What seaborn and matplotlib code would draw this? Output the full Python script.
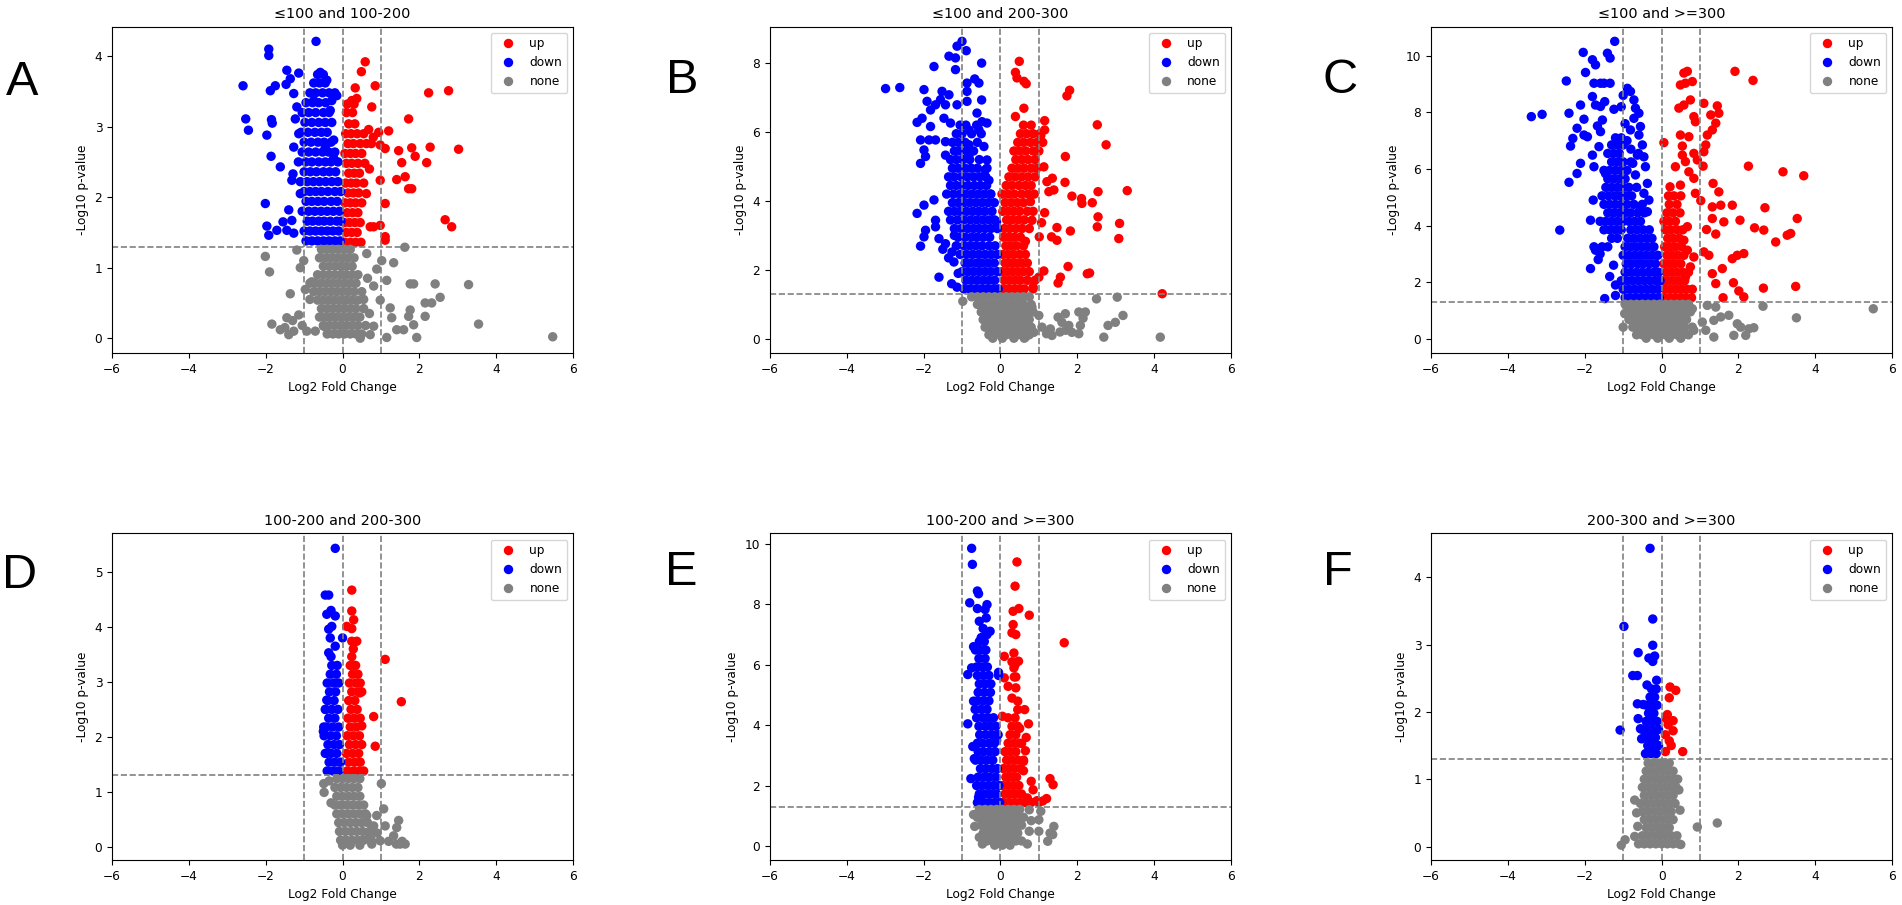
import matplotlib
matplotlib.use("Agg")
import matplotlib.pyplot as plt
import pandas as pd
import seaborn as sns

# titles and panel letters
TITLES = ["≤100 and 100-200", "≤100 and 200-300", "≤100 and >=300",
          "100-200 and 200-300", "100-200 and >=300", "200-300 and >=300"]
LETTERS = ["A", "B", "C", "D", "E", "F"]
GROUPS = ["up", "down", "none"]
COLORS = {"up": "red", "down": "blue", "none": "grey"}

# ---- panel A: scattered points (x, y) and dense rows (y, [x, ...]) ----
A_UP_PTS = [(0.59, 3.92), (0.49, 3.78), (0.33, 3.55), (0.85, 3.58), (0.24, 3.37), (0.37, 3.40),
            (0.76, 3.28), (2.24, 3.48), (2.76, 3.51), (1.72, 3.11), (0.68, 2.96), (0.94, 2.92),
            (1.20, 2.94), (0.98, 2.74), (1.11, 2.69), (1.46, 2.66), (1.80, 2.70), (2.28, 2.71),
            (3.02, 2.68), (1.89, 2.58), (1.54, 2.49), (2.19, 2.49), (0.98, 2.24), (1.41, 2.25),
            (1.63, 2.29), (1.72, 2.12), (1.80, 2.12), (1.11, 1.91), (2.67, 1.68), (2.84, 1.58),
            (0.98, 1.60), (0.72, 1.58), (1.11, 1.44), (1.11, 1.39), (0.81, 1.58), (0.70, 2.40),
            (0.62, 2.05), (0.80, 2.85)]
A_UP_ROWS = [(1.36, [0.06, 0.20, 0.34, 0.48]), (1.50, [0.10, 0.24, 0.38]),
             (1.64, [0.05, 0.18, 0.32, 0.46]), (1.78, [0.12, 0.26, 0.40]),
             (1.92, [0.06, 0.20, 0.34, 0.50]), (2.06, [0.14, 0.28, 0.42]),
             (2.20, [0.08, 0.22, 0.36, 0.55]), (2.34, [0.16, 0.30, 0.44]),
             (2.48, [0.10, 0.24, 0.40, 0.58]), (2.62, [0.06, 0.20, 0.34, 0.50]),
             (2.76, [0.14, 0.28, 0.46, 0.62, 0.75]), (2.90, [0.08, 0.22, 0.38, 0.55]),
             (3.04, [0.16, 0.32]), (3.20, [0.10, 0.26]), (3.32, [0.12, 0.30])]
A_DOWN_PTS = [(-2.59, 3.58), (-2.52, 3.11), (-2.45, 2.95), (-1.92, 4.10), (-1.92, 4.01), (-1.97, 2.88),
              (-1.86, 2.58), (-1.85, 3.10), (-1.83, 3.05), (-1.88, 3.51), (-1.75, 3.58), (-1.62, 2.43),
              (-1.45, 3.80), (-1.47, 3.60), (-1.27, 3.47), (-1.14, 3.76), (-2.01, 1.91), (-1.97, 1.59),
              (-1.92, 1.46), (-1.71, 1.53), (-1.45, 1.53), (-1.27, 1.49), (-1.40, 1.82), (-1.32, 1.67),
              (-0.69, 4.21), (-0.58, 3.77), (-0.41, 3.66), (-0.15, 3.44), (-0.75, 3.37), (-0.32, 3.23),
              (-1.19, 3.28), (-1.23, 3.11), (-1.14, 2.90), (-1.27, 2.71), (-1.29, 2.33), (-1.32, 2.24),
              (-1.10, 2.05), (-0.28, 3.37), (-0.23, 2.81), (-0.45, 2.71), (-0.23, 2.55), (-1.55, 1.65),
              (-1.36, 3.68)]
A_DOWN_ROWS = [(1.38, [-0.95, -0.80, -0.65, -0.50, -0.35, -0.20, -0.06]),
               (1.52, [-1.00, -0.85, -0.70, -0.55, -0.40, -0.25, -0.10]),
               (1.66, [-0.92, -0.78, -0.62, -0.48, -0.32, -0.15, -0.04]),
               (1.80, [-1.05, -0.88, -0.72, -0.56, -0.40, -0.24, -0.08]),
               (1.94, [-0.95, -0.80, -0.64, -0.48, -0.30, -0.14]),
               (2.08, [-1.00, -0.85, -0.70, -0.55, -0.38, -0.20, -0.05]),
               (2.22, [-1.10, -0.92, -0.76, -0.60, -0.44, -0.28, -0.12]),
               (2.36, [-1.00, -0.84, -0.68, -0.50, -0.34, -0.18]),
               (2.50, [-1.15, -0.96, -0.80, -0.62, -0.45, -0.30, -0.12]),
               (2.64, [-1.05, -0.88, -0.70, -0.52, -0.36, -0.20]),
               (2.78, [-1.00, -0.82, -0.64, -0.48, -0.30]),
               (2.92, [-1.08, -0.90, -0.72, -0.55, -0.40]),
               (3.06, [-0.98, -0.80, -0.62, -0.45, -0.28]),
               (3.20, [-1.05, -0.88, -0.70, -0.50, -0.35]),
               (3.34, [-0.95, -0.78, -0.62, -0.44]),
               (3.48, [-0.85, -0.70, -0.52, -0.35, -0.20]),
               (3.62, [-0.75, -0.60, -0.45]), (3.74, [-0.65, -0.50])]
A_NONE_PTS = [(-2.01, 1.16), (-1.90, 0.94), (-1.36, 0.63), (-1.84, 0.20), (-1.62, 0.12), (-1.27, 0.10),
              (-0.93, 0.10), (-0.71, 0.10), (-0.49, 0.17), (-1.45, 0.29), (-1.14, 0.33), (-0.97, 0.69),
              (-1.10, 1.00), (-1.01, 1.10), (-1.19, 1.25), (0.89, 0.98), (1.02, 1.10), (1.33, 1.07),
              (1.15, 0.82), (0.98, 0.54), (1.24, 0.43), (1.28, 0.29), (1.15, 0.01), (1.76, 0.77),
              (1.85, 0.77), (2.41, 0.77), (3.28, 0.76), (2.15, 0.50), (2.32, 0.50), (2.54, 0.58),
              (2.15, 0.31), (1.76, 0.40), (1.72, 0.31), (1.85, 0.19), (1.93, 0.01), (1.41, 0.12),
              (1.59, 0.12), (3.54, 0.20), (5.47, 0.02), (0.81, 0.17), (0.72, 0.05), (0.46, 0.00),
              (0.55, 0.55), (0.81, 0.74), (0.63, 1.20), (1.62, 1.29), (-1.50, 0.15), (-1.30, 0.25),
              (-1.05, 0.18), (-0.85, 0.55), (-0.80, 0.80), (0.65, 0.85), (0.70, 0.35), (-1.40, 0.05)]
A_NONE_ROWS = [(1.26, [-0.55, -0.40, -0.25, -0.10, 0.05, 0.20]),
               (1.14, [-0.60, -0.45, -0.30, -0.15, 0.00, 0.15, 0.30]),
               (1.02, [-0.50, -0.35, -0.20, -0.05, 0.10, 0.25]),
               (0.90, [-0.65, -0.50, -0.35, -0.20, -0.05, 0.10, 0.25, 0.40]),
               (0.78, [-0.85, -0.70, -0.55, -0.40, -0.25, -0.10, 0.05, 0.20, 0.35]),
               (0.66, [-0.75, -0.60, -0.45, -0.30, -0.15, 0.00, 0.15, 0.30, 0.50]),
               (0.54, [-0.65, -0.50, -0.35, -0.20, -0.05, 0.10, 0.25, 0.40]),
               (0.42, [-0.55, -0.40, -0.25, -0.10, 0.05, 0.20, 0.35, 0.55]),
               (0.30, [-0.60, -0.45, -0.30, -0.15, 0.00, 0.15, 0.30, 0.45]),
               (0.18, [-0.50, -0.35, -0.20, -0.05, 0.10, 0.25, 0.40, 0.60]),
               (0.06, [-0.40, -0.25, -0.10, 0.05, 0.20, 0.35, 0.50])]

# ---- panel B ----
B_UP_PTS = [(0.49, 8.05), (0.39, 7.73), (0.43, 7.57), (0.61, 7.47), (0.67, 7.40), (1.73, 7.05),
            (1.80, 7.21), (0.61, 6.69), (0.39, 6.45), (1.15, 6.33), (1.15, 6.06), (2.52, 6.21),
            (2.75, 5.63), (1.69, 5.29), (1.68, 4.54), (1.21, 4.56), (1.35, 4.66), (1.26, 4.27),
            (1.39, 4.32), (1.86, 4.14), (2.11, 4.07), (2.12, 3.93), (2.39, 3.95), (2.54, 4.27),
            (3.30, 4.30), (2.54, 3.54), (2.52, 3.25), (3.10, 3.35), (3.08, 2.91), (1.82, 3.13),
            (1.47, 3.23), (1.33, 2.96), (1.47, 2.86), (1.15, 3.66), (1.07, 3.37), (1.01, 2.96),
            (1.76, 2.10), (2.26, 1.89), (2.32, 1.91), (1.56, 1.79), (1.50, 1.62), (1.13, 1.97),
            (1.00, 1.79), (4.21, 1.31), (1.13, 4.99), (0.78, 3.98), (0.82, 3.44), (0.65, 2.83),
            (1.10, 5.70), (1.05, 5.90), (0.85, 1.50)]
B_UP_ROWS = [(1.45, [0.06, 0.20, 0.34, 0.48, 0.62, 0.85]), (1.70, [0.10, 0.24, 0.38, 0.52, 0.70, 0.90]),
             (1.95, [0.05, 0.18, 0.32, 0.46, 0.60, 0.75]), (2.20, [0.12, 0.26, 0.40, 0.55, 0.70]),
             (2.45, [0.06, 0.20, 0.34, 0.50, 0.65]), (2.70, [0.14, 0.28, 0.42, 0.60]),
             (2.95, [0.08, 0.22, 0.36, 0.52]), (3.20, [0.10, 0.24, 0.40, 0.56, 0.75]),
             (3.45, [0.16, 0.30, 0.46, 0.62]), (3.70, [0.06, 0.20, 0.35, 0.50, 0.70, 0.85]),
             (3.95, [0.12, 0.28, 0.44, 0.60]), (4.20, [0.04, 0.20, 0.36, 0.55, 0.72, 0.88]),
             (4.45, [0.15, 0.30, 0.48, 0.65, 0.80]), (4.70, [0.22, 0.38, 0.55, 0.72, 0.90]),
             (4.95, [0.30, 0.46, 0.62, 0.80, 0.95]), (5.20, [0.40, 0.56, 0.72, 0.90]),
             (5.45, [0.35, 0.50, 0.66, 0.85, 1.00]), (5.70, [0.45, 0.60, 0.78, 0.95]),
             (5.95, [0.52, 0.68, 0.85, 1.02]), (6.20, [0.60, 0.80])]
B_DOWN_PTS = [(-2.99, 7.26), (-2.62, 7.29), (-1.99, 7.23), (-1.73, 7.90), (-1.91, 6.89), (-2.17, 6.28),
              (-2.04, 6.40), (-1.82, 6.64), (-1.69, 6.79), (-1.56, 6.94), (-1.52, 7.18), (-1.34, 7.08),
              (-1.43, 6.79), (-1.82, 6.16), (-2.08, 5.77), (-1.86, 5.77), (-1.69, 5.77), (-1.99, 5.48),
              (-1.95, 5.29), (-2.08, 5.09), (-1.47, 6.40), (-1.30, 6.26), (-1.13, 6.79), (-1.34, 8.20),
              (-1.17, 8.15), (-1.17, 7.81), (-1.13, 8.49), (-1.00, 8.63), (-0.89, 8.36), (-0.49, 8.00),
              (-0.87, 7.42), (-0.87, 7.18), (-0.67, 7.54), (-0.56, 7.42), (-0.49, 6.93), (-0.87, 6.89),
              (-0.61, 6.55), (-0.48, 6.30), (-0.35, 6.26), (-0.82, 6.06), (-0.56, 6.06), (-0.82, 5.63),
              (-0.43, 5.58), (-1.43, 5.72), (-1.43, 5.33), (-0.82, 5.33), (-0.35, 5.19), (-1.73, 4.03),
              (-1.99, 3.88), (-2.17, 3.64), (-1.69, 3.44), (-1.69, 3.25), (-1.95, 3.15), (-1.99, 2.96),
              (-2.08, 2.69), (-1.60, 2.91), (-1.43, 2.76), (-1.26, 2.52), (-1.21, 2.23), (-1.60, 1.79),
              (-1.27, 1.60), (-1.13, 1.50), (-1.50, 2.60), (-1.35, 2.35), (-1.10, 1.90), (-1.15, 2.70),
              (-1.20, 3.00), (-0.40, 4.90), (-0.30, 4.60), (-0.25, 4.20), (-0.10, 3.40)]
B_DOWN_ROWS = [(1.45, [-0.95, -0.80, -0.65, -0.50, -0.35, -0.20, -0.06]),
               (1.70, [-0.90, -0.75, -0.60, -0.45, -0.30, -0.15]),
               (1.95, [-1.00, -0.85, -0.70, -0.55, -0.40, -0.25, -0.08]),
               (2.20, [-0.92, -0.78, -0.62, -0.48, -0.32, -0.16]),
               (2.45, [-1.05, -0.88, -0.72, -0.56, -0.40, -0.24, -0.08]),
               (2.70, [-0.95, -0.80, -0.64, -0.48, -0.30, -0.14]),
               (2.95, [-1.10, -0.92, -0.75, -0.60, -0.44, -0.28]),
               (3.20, [-1.20, -1.02, -0.85, -0.70, -0.55, -0.40, -0.25, -0.08]),
               (3.45, [-1.30, -1.12, -0.95, -0.78, -0.62, -0.46, -0.30, -0.15]),
               (3.70, [-1.35, -1.20, -1.05, -0.88, -0.72, -0.56, -0.40, -0.22]),
               (3.95, [-1.25, -1.10, -0.95, -0.80, -0.64, -0.48, -0.32, -0.16]),
               (4.20, [-1.40, -1.22, -1.05, -0.90, -0.74, -0.58, -0.42, -0.26]),
               (4.45, [-1.30, -1.15, -1.00, -0.84, -0.68, -0.52, -0.36]),
               (4.70, [-1.35, -1.20, -1.02, -0.86, -0.70, -0.54, -0.38]),
               (4.95, [-1.25, -1.10, -0.92, -0.76, -0.60, -0.35]),
               (5.20, [-1.30, -1.15, -0.98, -0.80, -0.55]),
               (5.45, [-1.20, -1.05, -0.88, -0.70]), (5.70, [-1.25, -1.10, -0.92, -0.60]),
               (5.95, [-1.15, -1.00, -0.75, -0.50]), (6.20, [-1.05, -0.90, -0.62])]
B_NONE_PTS = [(-0.98, 1.09), (2.50, 1.16), (3.04, 1.21), (3.19, 0.68), (2.99, 0.48), (2.80, 0.39),
              (2.69, 0.05), (4.16, 0.05), (2.21, 0.78), (2.04, 0.78), (1.69, 0.73), (1.50, 0.63),
              (1.60, 0.48), (1.78, 0.39), (2.08, 0.39), (2.04, 0.15), (1.86, 0.19), (1.34, 0.10),
              (1.30, 0.29), (1.08, 0.34), (1.00, 0.68), (0.87, 0.19), (0.65, 0.05), (0.82, 0.92),
              (1.70, 0.25), (1.55, 0.20), (2.15, 0.60), (1.20, 0.15)]
B_NONE_ROWS = [(1.22, [-0.75, -0.60, -0.45, -0.30, -0.15, 0.00, 0.15, 0.30, 0.45, 0.60, 0.75]),
               (1.00, [-0.60, -0.45, -0.30, -0.15, 0.00, 0.15, 0.30, 0.45, 0.60, 0.80]),
               (0.78, [-0.50, -0.35, -0.20, -0.05, 0.10, 0.25, 0.40, 0.55, 0.70, 0.85]),
               (0.56, [-0.45, -0.30, -0.15, 0.00, 0.15, 0.30, 0.45, 0.60, 0.75]),
               (0.34, [-0.40, -0.25, -0.10, 0.05, 0.20, 0.35, 0.50, 0.65, 0.80]),
               (0.12, [-0.30, -0.15, 0.00, 0.15, 0.30, 0.45, 0.60, 0.75]),
               (0.02, [-0.20, 0.05, 0.35, 0.62])]

# ---- panel C ----
C_UP_PTS = [(0.58, 9.39), (0.67, 9.45), (0.49, 8.97), (0.62, 9.03), (0.80, 9.09), (1.91, 9.45),
            (2.38, 9.13), (1.10, 8.32), (1.45, 8.23), (1.49, 7.97), (1.28, 7.91), (0.75, 8.44),
            (0.45, 8.15), (0.58, 8.26), (0.84, 7.85), (0.88, 7.67), (1.41, 7.62), (1.32, 7.38),
            (1.19, 7.20), (1.15, 6.85), (1.10, 6.61), (0.49, 7.20), (0.71, 7.14), (0.06, 6.93),
            (0.54, 6.81), (0.54, 6.49), (0.84, 6.55), (0.62, 6.26), (0.93, 6.32), (1.08, 6.10),
            (0.36, 6.08), (0.71, 5.90), (0.84, 5.67), (2.26, 6.10), (3.16, 5.90), (3.70, 5.76),
            (1.34, 5.49), (1.49, 5.19), (0.22, 5.37), (0.49, 5.43), (0.88, 5.14), (1.02, 4.88),
            (1.32, 4.66), (1.54, 4.72), (1.84, 4.72), (2.69, 4.63), (1.32, 4.25), (1.62, 4.13),
            (2.04, 4.19), (2.42, 3.92), (2.66, 3.84), (2.97, 3.42), (3.27, 3.66), (3.36, 3.72),
            (3.53, 4.25), (1.17, 3.86), (1.41, 3.70), (1.10, 3.07), (1.23, 2.95), (1.84, 2.83),
            (1.97, 2.95), (2.14, 3.01), (1.58, 2.48), (1.32, 2.30), (1.41, 1.95), (1.87, 1.98),
            (2.01, 1.69), (2.14, 1.48), (1.60, 1.45), (2.65, 1.79), (3.49, 1.85), (0.84, 2.89),
            (0.75, 2.54), (0.62, 2.18), (0.67, 3.96), (0.58, 3.48), (0.67, 3.13)]
C_UP_ROWS = [(1.45, [0.06, 0.20, 0.34, 0.48, 0.62, 0.78]), (1.75, [0.10, 0.24, 0.38, 0.52, 0.66, 0.80]),
             (2.05, [0.05, 0.18, 0.32, 0.46, 0.60]), (2.35, [0.12, 0.26, 0.40, 0.55, 0.70]),
             (2.65, [0.06, 0.20, 0.34, 0.50]), (2.95, [0.14, 0.28, 0.42, 0.58]),
             (3.25, [0.08, 0.22, 0.36, 0.52]), (3.55, [0.16, 0.30, 0.46]),
             (3.85, [0.10, 0.24, 0.40, 0.55]), (4.15, [0.06, 0.20, 0.36]),
             (4.45, [0.14, 0.30, 0.48]), (4.75, [0.20, 0.40]), (5.05, [0.18, 0.32, 0.50])]
C_DOWN_PTS = [(-3.39, 7.85), (-3.11, 7.93), (-2.48, 9.11), (-2.41, 7.97), (-2.65, 3.84), (-2.41, 5.53),
              (-2.20, 5.84), (-2.11, 6.20), (-2.37, 6.81), (-2.31, 7.08), (-2.20, 7.44), (-2.02, 7.20),
              (-1.93, 7.14), (-2.11, 8.26), (-2.02, 7.76), (-2.04, 10.12), (-1.80, 9.86), (-1.72, 9.68),
              (-1.98, 9.41), (-1.76, 9.03), (-1.59, 9.03), (-1.50, 9.03), (-1.34, 9.03), (-1.41, 10.09),
              (-1.34, 9.92), (-1.22, 10.51), (-1.80, 8.56), (-1.72, 8.26), (-1.59, 8.21), (-1.48, 8.38),
              (-1.24, 8.11), (-1.67, 7.52), (-1.54, 7.73), (-1.59, 7.32), (-1.80, 6.49), (-1.63, 6.79),
              (-1.76, 6.08), (-1.46, 5.84), (-1.78, 4.90), (-1.85, 4.19), (-1.85, 2.48), (-1.48, 1.42),
              (-1.20, 1.53), (-1.76, 3.25), (-1.72, 3.13), (-0.89, 8.85), (-0.81, 8.74), (-0.72, 8.44),
              (-0.68, 8.15), (-0.59, 7.97), (-0.72, 7.79), (-0.81, 7.38), (-0.55, 7.50), (-0.59, 7.20),
              (-0.50, 6.85), (-0.63, 6.49), (-0.46, 6.43), (-0.42, 6.08), (-0.68, 5.79), (-0.37, 5.49),
              (-0.46, 5.14), (-0.33, 4.90), (-0.55, 4.66), (-0.37, 4.49), (-1.00, 8.60), (-1.05, 8.20),
              (-0.95, 7.60), (-0.90, 7.00), (-0.80, 6.70), (-0.75, 6.20), (-1.60, 3.00), (-1.65, 2.80),
              (-1.35, 2.20), (-1.20, 1.90), (-1.25, 2.60)]
C_DOWN_ROWS = [(1.45, [-0.95, -0.80, -0.65, -0.50, -0.35, -0.20, -0.06]),
               (1.75, [-1.00, -0.85, -0.70, -0.55, -0.40, -0.25, -0.10]),
               (2.05, [-1.05, -0.90, -0.75, -0.60, -0.45, -0.30, -0.15, -0.04]),
               (2.35, [-0.95, -0.80, -0.65, -0.50, -0.35, -0.20, -0.08]),
               (2.65, [-0.92, -0.78, -0.62, -0.48, -0.32, -0.16]),
               (2.95, [-1.00, -0.85, -0.70, -0.55, -0.40, -0.25, -0.10]),
               (3.25, [-1.55, -1.40, -0.95, -0.80, -0.65, -0.50, -0.35, -0.20]),
               (3.55, [-1.30, -1.15, -0.88, -0.72, -0.56, -0.40, -0.25]),
               (3.85, [-1.50, -1.35, -1.20, -1.05, -0.80, -0.64, -0.48, -0.32]),
               (4.15, [-1.60, -1.45, -1.30, -1.15, -1.00, -0.85, -0.70, -0.55]),
               (4.45, [-1.40, -1.25, -1.10, -0.95, -0.80, -0.62, -0.45]),
               (4.75, [-1.50, -1.35, -1.20, -1.05, -0.90, -0.72, -0.50]),
               (5.05, [-1.55, -1.38, -1.22, -1.08, -0.92, -0.78]),
               (5.35, [-1.45, -1.30, -1.15, -1.00, -0.85, -0.65]),
               (5.65, [-1.40, -1.25, -1.10, -0.95]), (5.95, [-1.50, -1.35, -1.20, -1.05, -0.90]),
               (6.25, [-1.30, -1.15, -1.00, -0.80]), (6.55, [-1.40, -1.25, -1.10, -0.60]),
               (6.85, [-1.30, -1.15, -1.00]), (7.10, [-1.20, -1.05])]
C_NONE_PTS = [(2.64, 1.15), (3.51, 0.74), (5.51, 1.06), (1.19, 1.18), (1.41, 1.12), (1.75, 0.83),
              (1.54, 0.77), (1.36, 0.65), (1.97, 0.53), (2.06, 0.41), (2.27, 0.35), (2.40, 0.39),
              (2.19, 0.12), (1.88, 0.12), (1.06, 0.59), (1.15, 0.30), (1.36, 0.06), (0.84, 0.30),
              (0.80, 1.06), (-1.00, 0.41), (-0.96, 0.89)]
C_NONE_ROWS = [(1.22, [-0.95, -0.80, -0.65, -0.50, -0.35, -0.20, -0.05, 0.10, 0.25, 0.40, 0.55, 0.70]),
               (0.95, [-0.90, -0.75, -0.60, -0.45, -0.30, -0.15, 0.00, 0.15, 0.30, 0.45, 0.60, 0.75]),
               (0.68, [-0.85, -0.70, -0.55, -0.40, -0.25, -0.10, 0.05, 0.20, 0.35, 0.50, 0.65]),
               (0.41, [-0.75, -0.60, -0.45, -0.30, -0.15, 0.00, 0.15, 0.30, 0.45, 0.60, 0.80]),
               (0.14, [-0.65, -0.50, -0.35, -0.20, -0.05, 0.10, 0.25, 0.40, 0.55, 0.70]),
               (0.02, [-0.40, -0.10, 0.20, 0.50])]

# ---- panel D ----
D_UP_PTS = [(0.24, 4.67), (0.24, 4.29), (0.29, 4.13), (0.11, 4.01), (0.24, 3.97), (0.24, 3.74),
            (0.37, 3.74), (1.11, 3.41), (1.53, 2.64), (0.81, 2.37), (0.85, 1.83), (0.30, 3.30),
            (0.45, 2.80), (0.50, 2.20)]
D_UP_ROWS = [(1.38, [0.12, 0.28, 0.44, 0.55]), (1.54, [0.16, 0.32, 0.46]), (1.70, [0.10, 0.26, 0.42]),
             (1.86, [0.18, 0.34, 0.50]), (2.02, [0.12, 0.28, 0.44]), (2.18, [0.20, 0.36]),
             (2.34, [0.14, 0.30, 0.46]), (2.50, [0.22, 0.38]), (2.66, [0.16, 0.32]),
             (2.82, [0.24, 0.40, 0.50]), (2.98, [0.18, 0.34, 0.46]), (3.14, [0.26, 0.40]),
             (3.30, [0.20, 0.34]), (3.46, [0.24]), (3.60, [0.28])]
D_DOWN_PTS = [(-0.19, 5.43), (-0.45, 4.58), (-0.36, 4.58), (-0.41, 4.23), (-0.19, 4.20), (-0.36, 3.96),
              (-0.28, 4.01), (-0.32, 3.80), (0.00, 3.80), (-0.19, 3.65), (-0.36, 3.53), (-0.41, 2.67),
              (-0.49, 2.18), (-0.41, 1.70), (-0.45, 2.50), (-0.50, 2.10), (-0.30, 4.30)]
D_DOWN_ROWS = [(1.38, [-0.40, -0.25, -0.10]), (1.54, [-0.35, -0.20, -0.05]), (1.70, [-0.45, -0.30, -0.15]),
               (1.86, [-0.38, -0.22, -0.08]), (2.02, [-0.48, -0.32, -0.16]), (2.18, [-0.42, -0.26, -0.10]),
               (2.34, [-0.36, -0.20]), (2.50, [-0.44, -0.28, -0.12]), (2.66, [-0.38, -0.22]),
               (2.82, [-0.34, -0.18]), (2.98, [-0.40, -0.24, -0.10]), (3.14, [-0.32, -0.16]),
               (3.30, [-0.28, -0.14]), (3.46, [-0.30])]
D_NONE_PTS = [(-0.49, 1.15), (-0.48, 0.99), (1.01, 1.15), (1.07, 0.69), (0.89, 0.57), (1.46, 0.48),
              (1.41, 0.35), (1.11, 0.38), (0.81, 0.38), (0.63, 0.57), (1.33, 0.20), (1.50, 0.05),
              (1.63, 0.05), (0.98, 0.11), (0.76, 0.05), (0.46, 0.11), (1.20, 0.10), (0.90, 0.25),
              (-0.30, 0.80), (-0.35, 1.20), (1.55, 0.10), (1.40, 0.05), (0.70, 0.20)]
D_NONE_ROWS = [(1.24, [-0.15, 0.00, 0.15, 0.30, 0.45]), (1.08, [-0.20, -0.05, 0.10, 0.25, 0.40]),
               (0.92, [-0.15, 0.00, 0.15, 0.30, 0.45]), (0.76, [-0.20, -0.05, 0.10, 0.25, 0.40, 0.55]),
               (0.60, [-0.15, 0.00, 0.15, 0.30, 0.45, 0.60]), (0.44, [-0.10, 0.05, 0.20, 0.35, 0.50, 0.65]),
               (0.28, [-0.08, 0.07, 0.22, 0.37, 0.52, 0.70]), (0.12, [-0.05, 0.10, 0.25, 0.40, 0.55, 0.75]),
               (0.03, [0.00, 0.20, 0.45])]

# ---- panel E ----
E_UP_PTS = [(0.43, 9.40), (0.38, 8.60), (0.48, 7.86), (0.33, 7.77), (0.75, 7.64), (0.33, 7.33),
            (0.30, 7.06), (0.40, 7.00), (1.66, 6.73), (0.10, 6.28), (0.35, 6.39), (0.47, 6.12),
            (0.10, 5.57), (0.20, 5.29), (0.40, 5.24), (0.45, 4.80), (0.45, 4.52), (0.63, 4.52),
            (0.73, 4.05), (0.67, 3.60), (0.65, 3.16), (0.60, 2.81), (0.80, 2.15), (1.29, 2.24),
            (1.37, 2.04), (0.85, 1.87), (1.20, 1.58), (0.95, 1.51), (0.05, 4.30), (0.35, 5.90),
            (0.30, 6.10), (0.40, 5.60), (0.50, 3.90), (0.55, 3.40), (0.60, 2.50), (1.10, 1.50),
            (0.70, 1.60)]
E_UP_ROWS = [(1.45, [0.08, 0.22, 0.36, 0.50, 0.64, 0.80, 1.00]), (1.73, [0.12, 0.26, 0.40, 0.55]),
             (2.01, [0.06, 0.20, 0.34, 0.48]), (2.29, [0.14, 0.28, 0.42]),
             (2.57, [0.08, 0.22, 0.36, 0.52]), (2.85, [0.16, 0.30, 0.45, 0.60]),
             (3.13, [0.12, 0.26, 0.40]), (3.41, [0.20, 0.35, 0.50]), (3.69, [0.25, 0.40]),
             (3.97, [0.30, 0.45]), (4.25, [0.20, 0.38]), (4.90, [0.30]), (5.60, [0.36]), (6.00, [0.38])]
E_DOWN_PTS = [(-0.75, 9.85), (-0.73, 9.32), (-0.60, 8.44), (-0.57, 8.35), (-0.80, 8.05), (-0.60, 7.86),
              (-0.35, 7.99), (-0.40, 7.83), (-0.55, 7.44), (-0.37, 7.55), (-0.27, 7.11), (-0.35, 7.00),
              (-0.85, 5.68), (-0.85, 4.05), (-0.77, 2.24), (-0.57, 1.62), (-0.45, 7.20), (-0.50, 6.90),
              (-0.70, 6.60), (-0.75, 5.90), (-0.70, 4.80), (-0.72, 3.30), (-0.68, 2.90), (-0.05, 5.75),
              (-0.10, 3.50)]
E_DOWN_ROWS = [(1.45, [-0.60, -0.45, -0.30, -0.15, -0.02]), (1.73, [-0.55, -0.40, -0.25, -0.10]),
               (2.01, [-0.62, -0.48, -0.32, -0.18, -0.04]), (2.29, [-0.58, -0.42, -0.28, -0.12]),
               (2.57, [-0.52, -0.38, -0.22, -0.08]), (2.85, [-0.65, -0.50, -0.35, -0.20]),
               (3.13, [-0.58, -0.44, -0.28, -0.14]), (3.41, [-0.60, -0.46, -0.30, -0.16]),
               (3.69, [-0.54, -0.38, -0.22, -0.06]), (3.97, [-0.56, -0.40, -0.26, -0.12]),
               (4.25, [-0.62, -0.46, -0.32, -0.18]), (4.53, [-0.66, -0.50, -0.35]),
               (4.81, [-0.60, -0.45, -0.30]), (5.09, [-0.58, -0.42, -0.26]),
               (5.37, [-0.55, -0.40, -0.25]), (5.65, [-0.60, -0.45, -0.30, -0.05]),
               (5.93, [-0.62, -0.48, -0.34]), (6.21, [-0.56, -0.40]),
               (6.49, [-0.65, -0.50, -0.38]), (6.77, [-0.55, -0.42])]
E_NONE_PTS = [(-0.70, 1.05), (-0.67, 0.66), (-0.47, 0.08), (0.75, 1.21), (1.05, 1.16), (1.00, 0.88),
              (1.39, 0.66), (1.29, 0.44), (1.36, 0.39), (1.23, 0.17), (1.00, 0.50), (0.70, 0.08),
              (0.75, 0.50), (0.80, 0.85), (-0.55, 0.30)]
E_NONE_ROWS = [(1.22, [-0.55, -0.40, -0.25, -0.10, 0.05, 0.20, 0.35, 0.50]),
               (0.96, [-0.60, -0.45, -0.30, -0.15, 0.00, 0.15, 0.30, 0.45, 0.60]),
               (0.70, [-0.50, -0.35, -0.20, -0.05, 0.10, 0.25, 0.40, 0.55]),
               (0.44, [-0.45, -0.30, -0.15, 0.00, 0.15, 0.30, 0.45]),
               (0.18, [-0.35, -0.20, -0.05, 0.10, 0.25, 0.40, 0.55]),
               (0.04, [-0.15, 0.05, 0.25])]

# ---- panel F ----
F_UP_PTS = [(0.22, 2.37), (0.37, 2.32), (0.20, 2.21), (0.15, 1.96), (0.30, 1.87), (0.30, 1.72),
            (0.20, 1.57), (0.55, 1.41), (0.10, 1.41), (0.17, 1.81), (0.10, 1.66), (0.25, 1.50),
            (0.12, 1.90)]
F_UP_ROWS = []
F_DOWN_PTS = [(-0.30, 4.43), (-0.23, 3.38), (-0.98, 3.27), (-0.23, 2.99), (-0.61, 2.88), (-0.23, 2.75),
              (-0.33, 2.80), (-0.18, 2.83), (-0.75, 2.54), (-0.63, 2.54), (-0.38, 2.40), (-0.13, 2.47),
              (-1.08, 1.73), (-0.61, 1.90), (-0.63, 2.12), (-0.48, 2.11), (-0.55, 1.75), (-0.52, 1.60)]
F_DOWN_ROWS = [(1.38, [-0.42, -0.28, -0.14]), (1.50, [-0.36, -0.22, -0.08]), (1.62, [-0.45, -0.30, -0.16]),
               (1.74, [-0.50, -0.36, -0.22, -0.08]), (1.86, [-0.40, -0.26, -0.12]), (1.98, [-0.34, -0.20]),
               (2.10, [-0.40, -0.26, -0.12]), (2.22, [-0.30, -0.18]), (2.34, [-0.26, -0.14])]
F_NONE_PTS = [(0.93, 0.29), (1.45, 0.35), (-1.05, 0.02), (-0.95, 0.10), (0.50, 0.03), (-0.70, 0.69),
              (0.45, 0.84), (0.48, 0.54), (-0.65, 0.50), (-0.62, 0.30), (-0.70, 0.15), (0.42, 1.00)]
F_NONE_ROWS = [(1.24, [-0.35, -0.20, -0.05, 0.10, 0.20]), (1.12, [-0.40, -0.25, -0.10, 0.05, 0.20, 0.30]),
               (1.00, [-0.45, -0.30, -0.15, 0.00, 0.15, 0.30]),
               (0.88, [-0.50, -0.35, -0.20, -0.05, 0.10, 0.25, 0.38]),
               (0.76, [-0.45, -0.30, -0.15, 0.00, 0.15, 0.30]),
               (0.64, [-0.55, -0.40, -0.25, -0.10, 0.05, 0.20, 0.35]),
               (0.52, [-0.50, -0.35, -0.20, -0.05, 0.10, 0.25]),
               (0.40, [-0.45, -0.30, -0.15, 0.00, 0.15, 0.30]),
               (0.28, [-0.40, -0.25, -0.10, 0.05, 0.20]),
               (0.16, [-0.50, -0.35, -0.20, -0.05, 0.10, 0.25, 0.40]),
               (0.04, [-0.60, -0.45, -0.30, -0.15, 0.00, 0.15, 0.30, 0.45])]

PANEL_DATA = {
    "A": [(A_UP_PTS, A_UP_ROWS), (A_DOWN_PTS, A_DOWN_ROWS), (A_NONE_PTS, A_NONE_ROWS)],
    "B": [(B_UP_PTS, B_UP_ROWS), (B_DOWN_PTS, B_DOWN_ROWS), (B_NONE_PTS, B_NONE_ROWS)],
    "C": [(C_UP_PTS, C_UP_ROWS), (C_DOWN_PTS, C_DOWN_ROWS), (C_NONE_PTS, C_NONE_ROWS)],
    "D": [(D_UP_PTS, D_UP_ROWS), (D_DOWN_PTS, D_DOWN_ROWS), (D_NONE_PTS, D_NONE_ROWS)],
    "E": [(E_UP_PTS, E_UP_ROWS), (E_DOWN_PTS, E_DOWN_ROWS), (E_NONE_PTS, E_NONE_ROWS)],
    "F": [(F_UP_PTS, F_UP_ROWS), (F_DOWN_PTS, F_DOWN_ROWS), (F_NONE_PTS, F_NONE_ROWS)],
}


def panel_frame(letter):
    records = []
    for group, (pts, rows) in zip(GROUPS, PANEL_DATA[letter]):
        for x, y in pts:
            records.append((x, y, group))
        for y, xs in rows:
            for x in xs:
                records.append((x, y, group))
    return pd.DataFrame(records, columns=["log2fc", "neglog10p", "group"])


fig = plt.figure(figsize=(19.02, 9.05), dpi=100)

# axes boxes in figure fractions (left, bottom, width, height)
lefts = [0.0589, 0.4048, 0.7524]
bottoms = [0.6099, 0.0497]
letter_pos = [(0.0116, 0.909), (0.3586, 0.9116), (0.7045, 0.9116),
              (0.0105, 0.3646), (0.358, 0.367), (0.7035, 0.367)]

for i, letter in enumerate(LETTERS):
    ax = fig.add_axes([lefts[i % 3], bottoms[i // 3], 0.2424, 0.3608])
    df = panel_frame(letter)
    sns.scatterplot(data=df, x="log2fc", y="neglog10p", hue="group", hue_order=GROUPS,
                    palette=COLORS, s=46, linewidth=0, ax=ax)
    ax.axhline(1.3, color="grey", linestyle="--", linewidth=1.2)
    for xv in (-1, 0, 1):
        ax.axvline(xv, color="grey", linestyle="--", linewidth=1.2)
    ax.set_xlim(-6, 6)
    ax.set_xticks(range(-6, 7, 2))
    ax.set_title(TITLES[i], fontsize=10.4)
    ax.set_xlabel("Log2 Fold Change", fontsize=8.7)
    ax.set_ylabel("-Log10 p-value", fontsize=8.7)
    ax.tick_params(labelsize=8.7)
    sns.move_legend(ax, "upper right", title=None, fontsize=8.7, frameon=True)
    fig.text(letter_pos[i][0], letter_pos[i][1], letter, fontsize=35,
             family="Liberation Sans", ha="center", va="center")

fig.savefig("out.png", dpi=100)
